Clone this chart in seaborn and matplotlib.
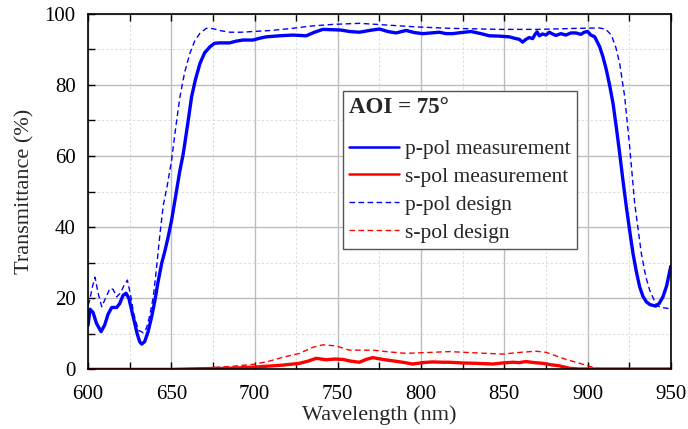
import matplotlib
matplotlib.use("Agg")
import matplotlib.pyplot as plt
import seaborn as sns
from matplotlib.ticker import MultipleLocator

# p-pol measurement
p_meas_wl = [600, 601.2, 603, 605, 607.8, 610, 612, 614.2, 617.2, 619, 621, 622.8, 624.5, 626,
             627.5, 629.5, 631, 632.2, 634, 636, 638.2, 640, 642, 644.2, 646, 648, 650.2, 652.2,
             655, 657.2, 660, 662.2, 664.5, 667.2, 670, 673.2, 676, 679, 685, 689, 693, 699, 703,
             707, 715, 723, 731, 736, 741, 747, 752, 757, 763, 769, 775, 780, 785, 791, 796, 801,
             806, 811, 815, 819, 824, 830, 836, 841, 847, 853, 857, 859, 861, 863, 865, 867, 868.5,
             869.7, 871, 873, 875, 877, 879, 881, 884, 887, 890, 893, 896, 898, 900, 902, 904.3,
             907.3, 909.3, 911.3, 913.3, 915.3, 917.3, 919.3, 921.3, 923.3, 925.3, 927.3, 929.3,
             931.3, 933.3, 935.3, 937.5, 940.9, 943, 945.3, 947.5, 950]
p_meas = [12.4, 16.9, 16.0, 13.0, 10.6, 12.5, 15.5, 17.4, 17.4, 18.5, 20.8, 21.4, 20.0, 17.0,
          14.0, 10.0, 7.8, 7.1, 7.8, 10.5, 14.8, 19.0, 24.5, 29.8, 33.0, 37.0, 42.0, 47.6,
          55.5, 60.7, 69.5, 76.7, 81.5, 86.0, 89.0, 90.7, 91.7, 91.8, 91.8, 92.3, 92.6, 92.6, 93.1,
          93.5, 93.8, 94.0, 93.8, 94.8, 95.6, 95.5, 95.4, 95.0, 94.8, 95.3, 95.7, 95.0, 94.6, 95.3,
          94.7, 94.4, 94.6, 94.8, 94.4, 94.4, 94.7, 95.0, 94.4, 93.8, 93.7, 93.5, 93.0, 92.8, 92.0,
          92.8, 93.3, 93.0, 94.2, 94.9, 93.8, 94.3, 94.0, 94.8, 94.3, 93.9, 94.4, 94.0, 94.6,
          94.6, 94.2, 94.8, 95.0, 94.0, 93.5, 90.7, 87.8, 84.2, 79.8, 74.8, 68.0, 60.7, 53.0,
          45.7, 39.0, 32.6, 27.5, 23.2, 20.5, 19.0, 18.2, 17.8, 18.5, 20.4, 23.5, 29.0]

# s-pol measurement
s_meas_wl = [600, 650, 670, 685, 699, 708, 717, 727, 732, 737, 743, 748, 753, 758, 763, 767, 771,
             777, 783, 789, 795, 801, 807, 813, 817, 825, 833, 843, 849, 855, 859, 863, 868, 873,
             878, 883, 889, 895, 950]
s_meas = [0.0, 0.0, 0.2, 0.3, 0.6, 0.9, 1.2, 1.7, 2.3, 3.1, 2.7, 2.9, 2.8, 2.3, 2.0, 2.8, 3.3,
          2.8, 2.4, 2.0, 1.5, 1.9, 2.1, 2.0, 2.0, 1.8, 1.7, 1.5, 1.8, 2.0, 1.9, 2.2, 1.9, 1.7,
          1.3, 1.0, 0.3, 0.1, 0.1]

# p-pol design
p_des_wl = [600, 601, 602.5, 604.2, 606, 608.2, 610.5, 613.2, 615, 617.2, 619.5, 621.5, 623.6,
            625.5, 627.5, 630.2, 633.2, 635, 637, 639.2, 641, 643.2, 645.2, 647.5, 650.2, 652.5,
            655.2, 658, 661.2, 664, 667.2, 671, 675, 680, 685.2, 692, 699, 710, 723, 733, 747,
            763, 780, 797, 817, 847, 870, 895.3, 907.3, 911, 914.3, 917, 919.3, 922.3, 925.3,
            928.3, 932.3, 935, 937.3, 941.3, 944, 947.7, 950]
p_des = [18.0, 19.5, 23.0, 25.9, 21.5, 17.6, 20.0, 22.8, 22.5, 20.4, 21.5, 23.5, 25.1,
         21.0, 15.5, 11.0, 10.3, 11.5, 15.0, 20.4, 28.0, 38.2, 46.2, 51.5, 58.9, 67.5,
         76.7, 83.5, 88.9, 92.3, 94.5, 95.9, 95.8, 95.2, 94.8, 94.8, 95.0, 95.3, 95.9, 96.5, 97.0,
         97.3, 96.8, 96.3, 95.9, 95.6, 95.6, 95.9, 96.0, 95.6, 94.0, 90.5, 86.0, 76.7, 62.6,
         46.7, 32.6, 26.0, 22.3, 18.1, 17.4, 17.2, 16.9]

# s-pol design
s_des_wl = [600, 650, 667, 685, 699, 708, 717, 727, 735, 741, 749, 757, 771, 781, 791, 807, 817,
            830, 849, 860, 869, 875, 881, 887, 893, 899, 905, 910, 950]
s_des = [0.0, 0.1, 0.3, 0.8, 1.4, 2.2, 3.4, 4.5, 6.2, 6.9, 6.6, 5.4, 5.4, 4.9, 4.5, 4.8, 5.0,
         4.7, 4.3, 4.8, 5.1, 4.8, 3.8, 2.8, 2.0, 1.2, 0.3, 0.1, 0.1]

BLUE = "#0000ff"
RED = "#ff0000"

sns.set_style("ticks")
plt.rcParams["font.family"] = ["Liberation Serif", "DejaVu Serif"]

fig = plt.figure(figsize=(6.88, 4.29), dpi=100)
ax = fig.add_axes([0.128, 0.139, 0.847, 0.829])

sns.lineplot(x=p_meas_wl, y=p_meas, ax=ax, color=BLUE, lw=2.4, label="p-pol measurement",
             sort=False, estimator=None)
sns.lineplot(x=s_meas_wl, y=s_meas, ax=ax, color=RED, lw=2.4, label="s-pol measurement",
             sort=False, estimator=None)
sns.lineplot(x=p_des_wl, y=p_des, ax=ax, color=BLUE, lw=1.0, label="p-pol design",
             sort=False, estimator=None)
sns.lineplot(x=s_des_wl, y=s_des, ax=ax, color=RED, lw=1.0, label="s-pol design",
             sort=False, estimator=None)
ax.lines[2].set_linestyle((0, (4, 2.5)))
ax.lines[3].set_linestyle((0, (4, 2.5)))

ax.set_xlim(600, 950)
ax.set_ylim(0, 100)
ax.xaxis.set_major_locator(MultipleLocator(50))
ax.xaxis.set_minor_locator(MultipleLocator(25))
ax.yaxis.set_major_locator(MultipleLocator(20))
ax.yaxis.set_minor_locator(MultipleLocator(10))
ax.grid(which="major", color="#bdbdbd", lw=1.0, ls="-")
ax.grid(which="minor", color="#dcdcdc", lw=0.8, ls=(0, (2, 2)))
ax.set_axisbelow(True)
ax.tick_params(which="both", direction="in", top=True, right=False, length=5, width=1.0,
               labelsize=15, colors="black")
ax.tick_params(axis="x", which="both", pad=11)
ax.tick_params(axis="y", which="both", pad=9)
for sp in ax.spines.values():
    sp.set_linewidth(1.2)
    sp.set_color("black")

ax.set_xlabel("Wavelength (nm)", fontsize=16, labelpad=1)
ax.set_ylabel("Transmittance (%)", fontsize=16, labelpad=7)

leg = ax.legend(loc="upper left", bbox_to_anchor=(0.438, 0.782), borderaxespad=0,
                title="AOI = 75°", title_fontproperties={"weight": "bold", "size": 16.5},
                fontsize=15.5, frameon=True, fancybox=False, framealpha=1,
                edgecolor="#555555", handlelength=2.3, handletextpad=0.3,
                labelspacing=0.36, borderpad=0.28, alignment="left")
leg.get_frame().set_linewidth(1.0)
leg._legend_box.sep = 15
for h in leg.get_lines()[:2]:
    h.set_linewidth(1.8)

fig.savefig("out.png", dpi=100)
